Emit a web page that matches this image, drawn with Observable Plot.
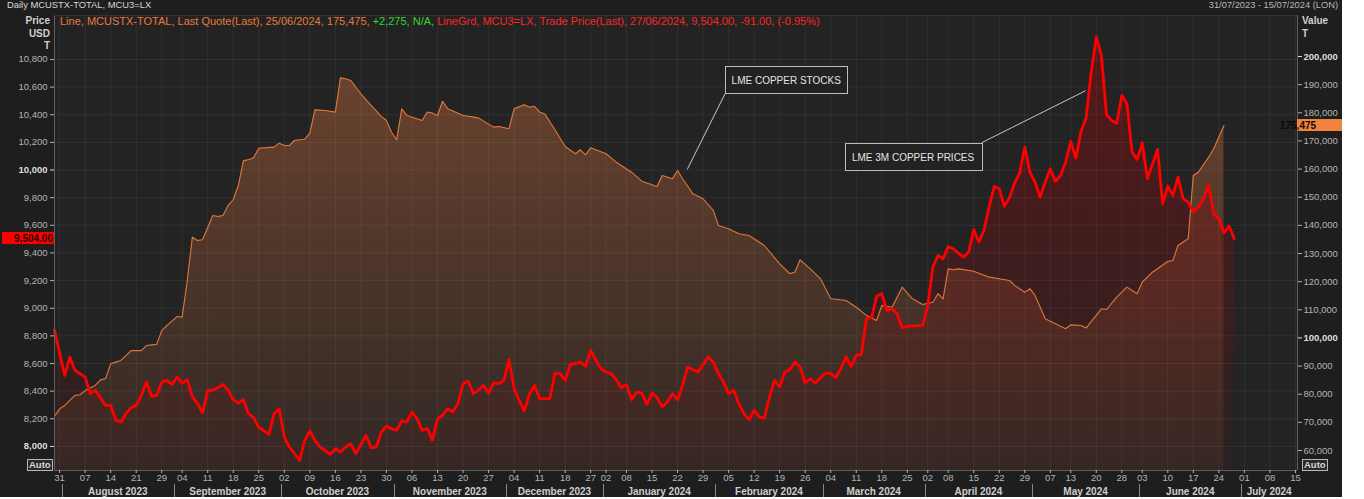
<!DOCTYPE html>
<html><head><meta charset="utf-8">
<script src="https://cdn.jsdelivr.net/npm/d3@7"></script>
<script src="https://cdn.jsdelivr.net/npm/@observablehq/plot@0.6"></script>
<style>
html,body{margin:0;padding:0;background:#ffffff;}
#wrap{position:relative;width:1342px;height:497px;background:#1e1e1e;overflow:hidden;font-family:"Liberation Sans",Arial,sans-serif;}
#wrap svg{position:absolute;left:0;top:0;}
.t{position:absolute;white-space:nowrap;font-size:10px;line-height:12px;}
.b{font-weight:bold;}
.auto{position:absolute;font-size:9.5px;font-weight:bold;color:#d8d8d8;border:1px solid #b8b8b8;line-height:10px;height:10px;padding:0 1px;background:#2a2a2a;}
</style></head><body>
<div id="wrap">
  <div class="t" style="left:7px;top:-1px;color:#d6d6d6;font-size:9.4px;">Daily MCUSTX-TOTAL, MCU3=LX</div>
  <div class="t" style="right:4px;top:-1px;color:#b8b8b8;font-size:9.3px;">31/07/2023 - 15/07/2024 (LON)</div>
  <div class="t b" style="left:0;width:50px;text-align:right;top:15px;color:#d0d0d0;">Price</div>
  <div class="t b" style="left:0;width:50px;text-align:right;top:28px;color:#d0d0d0;">USD</div>
  <div class="t b" style="left:0;width:50px;text-align:right;top:40px;color:#d0d0d0;">T</div>
  <div class="t b" style="left:1302px;top:15px;color:#d0d0d0;">Value</div>
  <div class="t b" style="left:1302px;top:28px;color:#d0d0d0;">T</div>
  <div class="auto" style="left:27px;top:459px;">Auto</div>
  <div class="auto" style="left:1302px;top:459px;">Auto</div>
</div>
<script>
// ---------- data ----------
const holidays = ["2023-08-28","2023-12-25","2023-12-26","2024-01-01","2024-03-29","2024-04-01","2024-05-06","2024-05-27"];
const calendarStart = "2023-07-28";
const calendarEnd = "2024-07-15";

// LME 3M copper price (USD/T)
const priceSeries = [
["2023-07-28",8840],["2023-08-01",8514],["2023-08-02",8647],["2023-08-03",8551],["2023-08-07",8502],["2023-08-08",8382],["2023-08-09",8406],
["2023-08-11",8297],["2023-08-14",8297],["2023-08-15",8189],["2023-08-16",8177],["2023-08-17",8237],["2023-08-18",8281],["2023-08-21",8297],
["2023-08-22",8370],["2023-08-23",8466],["2023-08-24",8363],["2023-08-25",8370],["2023-08-29",8466],["2023-08-30",8478],["2023-08-31",8449],
["2023-09-01",8502],["2023-09-04",8459],["2023-09-05",8483],["2023-09-06",8358],["2023-09-07",8310],["2023-09-08",8242],["2023-09-11",8406],
["2023-09-12",8406],["2023-09-14",8449],["2023-09-15",8406],["2023-09-18",8338],["2023-09-19",8314],["2023-09-20",8338],["2023-09-21",8237],
["2023-09-22",8208],["2023-09-25",8140],["2023-09-27",8088],["2023-09-28",8237],["2023-09-29",8273],["2023-10-02",8068],["2023-10-03",7996],
["2023-10-05",7900],["2023-10-06",8044],["2023-10-09",8112],["2023-10-10",8044],["2023-10-11",7996],["2023-10-13",7943],["2023-10-16",7984],
["2023-10-17",7960],["2023-10-18",7996],["2023-10-19",8020],["2023-10-20",7948],["2023-10-24",8080],["2023-10-25",7991],["2023-10-26",7996],
["2023-10-27",8104],["2023-10-30",8146],["2023-10-31",8129],["2023-11-01",8117],["2023-11-02",8184],["2023-11-03",8177],["2023-11-06",8249],
["2023-11-07",8201],["2023-11-08",8117],["2023-11-09",8129],["2023-11-10",8044],["2023-11-13",8201],["2023-11-14",8225],["2023-11-15",8273],
["2023-11-16",8249],["2023-11-17",8310],["2023-11-20",8454],["2023-11-21",8473],["2023-11-22",8382],["2023-11-23",8406],["2023-11-24",8442],
["2023-11-27",8386],["2023-11-28",8459],["2023-11-29",8454],["2023-11-30",8478],["2023-12-01",8628],["2023-12-04",8418],["2023-12-05",8334],
["2023-12-06",8256],["2023-12-07",8382],["2023-12-08",8442],["2023-12-11",8346],["2023-12-13",8346],["2023-12-14",8531],["2023-12-15",8527],
["2023-12-18",8478],["2023-12-19",8594],["2023-12-20",8599],["2023-12-21",8611],["2023-12-22",8580],["2023-12-27",8695],["2023-12-28",8623],
["2023-12-29",8563],["2024-01-02",8539],["2024-01-03",8527],["2024-01-04",8483],["2024-01-05",8425],["2024-01-08",8449],["2024-01-09",8338],
["2024-01-10",8394],["2024-01-11",8386],["2024-01-12",8305],["2024-01-15",8386],["2024-01-16",8353],["2024-01-17",8285],["2024-01-18",8321],
["2024-01-19",8382],["2024-01-22",8338],["2024-01-23",8442],["2024-01-24",8575],["2024-01-26",8539],["2024-01-29",8594],["2024-01-30",8647],
["2024-01-31",8611],["2024-02-01",8527],["2024-02-02",8466],["2024-02-05",8382],["2024-02-06",8406],["2024-02-07",8310],["2024-02-08",8237],
["2024-02-09",8194],["2024-02-12",8261],["2024-02-13",8213],["2024-02-14",8206],["2024-02-15",8358],["2024-02-16",8478],["2024-02-19",8430],
["2024-02-20",8539],["2024-02-21",8556],["2024-02-22",8611],["2024-02-23",8575],["2024-02-26",8459],["2024-02-27",8490],["2024-02-28",8459],
["2024-02-29",8498],["2024-03-01",8531],["2024-03-04",8527],["2024-03-05",8498],["2024-03-06",8563],["2024-03-07",8647],["2024-03-08",8580],
["2024-03-11",8659],["2024-03-12",8666],["2024-03-13",8924],["2024-03-14",8936],["2024-03-15",9086],["2024-03-18",9105],["2024-03-19",8984],
["2024-03-20",8997],["2024-03-21",8961],["2024-03-22",8857],["2024-03-25",8871],["2024-03-26",8871],["2024-03-28",8876],["2024-04-02",9021],
["2024-04-03",9298],["2024-04-04",9382],["2024-04-05",9358],["2024-04-08",9447],["2024-04-09",9430],["2024-04-10",9399],["2024-04-11",9370],
["2024-04-12",9406],["2024-04-15",9568],["2024-04-16",9479],["2024-04-17",9563],["2024-04-18",9732],["2024-04-19",9881],["2024-04-22",9865],
["2024-04-23",9737],["2024-04-24",9800],["2024-04-25",9905],["2024-04-26",9980],["2024-04-29",10166],["2024-04-30",9985],["2024-05-01",9913],
["2024-05-02",9804],["2024-05-03",9913],["2024-05-07",10009],["2024-05-08",9918],["2024-05-09",9961],["2024-05-10",10057],["2024-05-13",10207],
["2024-05-14",10086],["2024-05-15",10279],["2024-05-16",10376],["2024-05-17",10708],["2024-05-20",10961],["2024-05-21",10829],["2024-05-22",10400],
["2024-05-23",10359],["2024-05-24",10339],["2024-05-28",10540],["2024-05-29",10480],["2024-05-30",10130],["2024-05-31",10077],["2024-06-03",10197],
["2024-06-04",9937],["2024-06-06",10149],["2024-06-07",9756],["2024-06-10",9884],["2024-06-11",9816],["2024-06-12",9949],["2024-06-13",9792],
["2024-06-14",9768],["2024-06-17",9696],["2024-06-18",9732],["2024-06-19",9792],["2024-06-20",9889],["2024-06-21",9684],["2024-06-24",9648],
["2024-06-25",9546],["2024-06-26",9595],["2024-06-27",9504]
];

// LME copper stocks (tonnes)
const stockSeries = [
["2023-07-28",72100],["2023-07-31",74800],["2023-08-01",76000],["2023-08-03",79550],["2023-08-04",79800],["2023-08-07",81300],["2023-08-09",83100],
["2023-08-10",85100],["2023-08-11",85500],["2023-08-14",90800],["2023-08-15",91400],["2023-08-16",92000],["2023-08-18",95500],["2023-08-22",95500],
["2023-08-23",97300],["2023-08-25",97700],["2023-08-29",102600],["2023-08-30",104400],["2023-09-01",107600],["2023-09-04",107400],["2023-09-05",120400],
["2023-09-06",135800],["2023-09-07",134600],["2023-09-08",134900],["2023-09-12",143500],["2023-09-13",143150],["2023-09-14",143500],["2023-09-15",147100],
["2023-09-18",149100],["2023-09-19",154200],["2023-09-20",163000],["2023-09-21",163300],["2023-09-22",164000],["2023-09-25",167400],["2023-09-28",167800],
["2023-09-29",169200],["2023-10-02",168400],["2023-10-03",168400],["2023-10-04",170150],["2023-10-06",170600],["2023-10-09",172750],["2023-10-10",181050],
["2023-10-12",180800],["2023-10-16",180250],["2023-10-17",192400],["2023-10-18",192100],["2023-10-19",191500],["2023-10-23",186750],["2023-10-25",182600],
["2023-10-27",178700],["2023-10-30",177250],["2023-10-31",173100],["2023-11-01",170400],["2023-11-02",181400],["2023-11-03",179050],["2023-11-08",177250],
["2023-11-09",180250],["2023-11-10",179900],["2023-11-13",179050],["2023-11-14",184100],["2023-11-15",181400],["2023-11-20",179050],["2023-11-23",178200],
["2023-11-28",174900],["2023-11-29",175100],["2023-12-01",174300],["2023-12-04",181400],["2023-12-06",182850],["2023-12-07",182000],["2023-12-08",182300],
["2023-12-11",180250],["2023-12-12",179600],["2023-12-14",173950],["2023-12-18",168000],["2023-12-20",165450],["2023-12-21",166850],["2023-12-22",165050],
["2023-12-27",167550],["2024-01-02",165450],["2024-01-04",162450],["2024-01-09",158900],["2024-01-11",155700],["2024-01-16",153800],["2024-01-17",157700],
["2024-01-19",156550],["2024-01-22",159500],["2024-01-23",156550],["2024-01-25",151200],["2024-01-29",149450],["2024-01-31",145300],["2024-02-01",139950],
["2024-02-05",138800],["2024-02-07",137000],["2024-02-09",136400],["2024-02-14",132850],["2024-02-19",126350],["2024-02-21",122800],["2024-02-22",123400],
["2024-02-23",127750],["2024-02-27",124550],["2024-02-29",121000],["2024-03-04",113900],["2024-03-07",113300],["2024-03-11",110900],["2024-03-13",108000],
["2024-03-15",106200],["2024-03-18",111550],["2024-03-20",110900],["2024-03-22",118050],["2024-03-26",113900],["2024-03-28",111900],["2024-04-03",112700],
["2024-04-04",115700],["2024-04-05",113900],["2024-04-08",124550],["2024-04-09",124200],["2024-04-10",124550],["2024-04-15",123700],["2024-04-18",121600],
["2024-04-24",120400],["2024-04-25",118650],["2024-04-29",116250],["2024-04-30",117500],["2024-05-01",115100],["2024-05-03",106800],["2024-05-10",103250],
["2024-05-13",104650],["2024-05-15",104400],["2024-05-16",103500],["2024-05-21",110350],["2024-05-22",110100],["2024-05-24",114500],["2024-05-29",118050],
["2024-05-31",115700],["2024-06-03",119800],["2024-06-05",123350],["2024-06-10",127150],["2024-06-11",127500],["2024-06-12",132850],["2024-06-14",135250],
["2024-06-17",157700],["2024-06-18",158900],["2024-06-20",164200],["2024-06-21",167200],["2024-06-25",175475]
];

const priceTicks = [8000,8200,8400,8600,8800,9000,9200,9400,9600,9800,10000,10200,10400,10600,10800];
const priceBoldTicks = [8000,10000];
const stockTicks = [60000,70000,80000,90000,100000,110000,120000,130000,140000,150000,160000,170000,180000,190000,200000];
const stockBoldTicks = [100000,200000];

const annotations = [
  {label:"LME COPPER STOCKS", date:"2024-01-24", series:"stock", value:159700, corner:"bottom-left", dx:38, dy:-76, w:122, h:27},
  {label:"LME 3M COPPER PRICES", date:"2024-05-16", series:"price", value:10570, corner:"top-right", dx:-104, dy:52, w:137, h:27}
];

// ---------- trading-day calendar ----------
const cal = [];
for (let t = Date.parse(calendarStart+"T00:00:00Z"); t <= Date.parse(calendarEnd+"T00:00:00Z"); t += 864e5) {
  const d = new Date(t), wd = d.getUTCDay(), s = d.toISOString().slice(0,10);
  if (wd === 0 || wd === 6 || holidays.includes(s)) continue;
  cal.push(s);
}
const idx = new Map(cal.map((s,i)=>[s,i]));
const xDomain = [0, cal.length - 1 + 0.4];

const priceDomain = [7826, 11118];
const stockDomain = [52893, 214569];
const kk = (priceDomain[1]-priceDomain[0])/(stockDomain[1]-stockDomain[0]);
const toP = s => priceDomain[0] + (s - stockDomain[0]) * kk;
const fromP = p => stockDomain[0] + (p - priceDomain[0]) / kk;

const priceData = priceSeries.map(([d,v]) => ({i: idx.get(d), v})).filter(d => d.i !== undefined);
const stockData = stockSeries.map(([d,v]) => ({i: idx.get(d), v: toP(v), raw: v})).filter(d => d.i !== undefined);
if (priceData.length !== priceSeries.length || stockData.length !== stockSeries.length) console.error("date not in calendar");

const weekKey = s => { const d = new Date(s+"T00:00:00Z"); return d.getTime() - ((d.getUTCDay()+6)%7)*864e5; };
const weekTicks = cal.map((s,i)=>i).filter(i => i > 0 && weekKey(cal[i]) !== weekKey(cal[i-1]));

const months = [];
cal.forEach((s,i) => {
  const m = s.slice(0,7);
  if (!months.length || months[months.length-1].m !== m) months.push({m, start:i, end:i});
  else months[months.length-1].end = i;
});

const fmtInt = d3.format(",");
const fmt2 = d3.format(",.2f");
const monthName = d3.utcFormat("%B %Y");

const W = 1342, H = 497;
const M = {left: 54, right: W - 1297, top: 15, bottom: H - 470};

// ---------- custom render marks ----------
function defsMark(index, scales, values, dims) {
  const g = d3.create("svg:g");
  const defs = g.append("defs");
  const y1 = dims.marginTop, y2 = dims.height - dims.marginBottom;
  const gs = defs.append("linearGradient").attr("id","gStock").attr("gradientUnits","userSpaceOnUse")
    .attr("x1",0).attr("x2",0).attr("y1",y1).attr("y2",y2);
  [[0,"#72462f"],[0.3,"#5e3d2c"],[0.65,"#463228"],[1,"#322825"]].forEach(([o,c]) =>
    gs.append("stop").attr("offset",o).attr("stop-color",c));
  const gp = defs.append("linearGradient").attr("id","gPrice").attr("gradientUnits","userSpaceOnUse")
    .attr("x1",0).attr("x2",0).attr("y1",y1).attr("y2",y2);
  [[0,0.62],[0.45,0.36],[1,0.05]].forEach(([o,a]) =>
    gp.append("stop").attr("offset",o).attr("stop-color","#7d0f12").attr("stop-opacity",a));
  return g.node();
}

function monthAxis(index, scales, values, dims) {
  const g = d3.create("svg:g").attr("font-size", 10);
  const x = scales.x;
  const yb = dims.height - dims.marginBottom;
  months.forEach((mo, j) => {
    const a = Math.max(xDomain[0], mo.start - 0.5), b = Math.min(xDomain[1], mo.end + 0.5);
    if (j > 0) {
      const xs = Math.round(x(mo.start - 0.5)) + 0.5;
      g.append("line").attr("x1", xs).attr("x2", xs).attr("y1", yb + 14).attr("y2", yb + 27).attr("stroke", "#8a8a8a");
    }
    if (x(b) - x(a) > 40) {
      g.append("text").attr("x", (x(a) + x(b)) / 2).attr("y", yb + 21).attr("dy", "0.35em")
        .attr("text-anchor", "middle").attr("font-weight", "bold").attr("fill", "#cdcdcd")
        .text(monthName(new Date(mo.m + "-01T00:00:00Z")));
    }
  });
  return g.node();
}

function valueTags(index, scales, values, dims) {
  const g = d3.create("svg:g").attr("font-size", 10).attr("font-weight", "bold");
  const y = scales.y;
  const lastP = priceData[priceData.length - 1].v;
  const lastS = stockData[stockData.length - 1];
  const yp = y(lastP);
  g.append("rect").attr("x", 2).attr("y", yp - 6).attr("width", dims.marginLeft - 2).attr("height", 12).attr("fill", "#ff0000");
  g.append("text").attr("x", dims.marginLeft - 1).attr("y", yp).attr("dy", "0.35em").attr("text-anchor", "end").attr("fill", "#1a0000").text(fmt2(lastP));
  const ys = y(lastS.v);
  const xr = dims.width - dims.marginRight;
  g.append("rect").attr("x", xr).attr("y", ys - 6).attr("width", dims.marginRight).attr("height", 12).attr("fill", "#f2823f");
  g.append("text").attr("x", xr + 1).attr("y", ys).attr("dy", "0.35em").attr("fill", "#120800").text(fmtInt(lastS.raw));
  return g.node();
}

function annotationMark(index, scales, values, dims) {
  const g = d3.create("svg:g").attr("font-size", 10);
  annotations.forEach(a => {
    const px = scales.x(idx.get(a.date));
    const py = scales.y(a.series === "stock" ? toP(a.value) : a.value);
    const cx = px + a.dx, cy = py + a.dy;
    let bx, by;
    if (a.corner === "bottom-left") { bx = cx; by = cy - a.h; } else { bx = cx - a.w; by = cy; }
    g.append("line").attr("x1", px).attr("y1", py).attr("x2", cx).attr("y2", cy).attr("stroke", "#c8c8c8").attr("stroke-width", 1);
    g.append("rect").attr("x", Math.round(bx) + 0.5).attr("y", Math.round(by) + 0.5).attr("width", a.w).attr("height", a.h)
      .attr("fill", "#222222").attr("stroke", "#bdbdbd");
    g.append("text").attr("x", bx + a.w / 2).attr("y", by + a.h / 2 + 1).attr("dy", "0.35em").attr("text-anchor", "middle")
      .attr("fill", "#e4e4e4").text(a.label);
  });
  return g.node();
}

// ---------- chart ----------
const chart = Plot.plot({
  width: W, height: H,
  marginLeft: M.left, marginRight: M.right, marginTop: M.top, marginBottom: M.bottom,
  style: {background: "transparent", color: "#b4b4b4", fontFamily: "'Liberation Sans', Arial, sans-serif", fontSize: "9.5px", overflow: "visible"},
  x: {domain: xDomain, axis: null, label: null},
  y: {domain: priceDomain, axis: null, label: null},
  marks: [
    defsMark,
    Plot.frame({fill: "#232323", stroke: null}),
    Plot.areaY(stockData, {x: "i", y1: priceDomain[0], y2: "v", fill: "url(#gStock)"}),
    Plot.areaY(priceData, {x: "i", y1: priceDomain[0], y2: "v", fill: "url(#gPrice)"}),
    Plot.gridY(priceTicks, {stroke: "#ffffff", strokeOpacity: 0.06}),
    Plot.gridX(weekTicks, {stroke: "#ffffff", strokeOpacity: 0.06}),
    Plot.lineY(stockData, {x: "i", y: "v", stroke: "#dc763a", strokeWidth: 1.1}),
    Plot.lineY(priceData, {x: "i", y: "v", stroke: "#ff0000", strokeWidth: 2.8, strokeLinejoin: "round"}),
    Plot.ruleX(xDomain, {stroke: "#5e5e5e"}),
    Plot.ruleY([priceDomain[0]], {stroke: "#5e5e5e"}),
    Plot.ruleY([priceDomain[1]], {stroke: "#333333"}),
    Plot.axisY(priceTicks.filter(v => !priceBoldTicks.includes(v)), {anchor: "left", label: null, tickSize: 4, tickPadding: 3, tickFormat: fmtInt, color: "#b4b4b4"}),
    Plot.axisY(priceBoldTicks, {anchor: "left", label: null, tickSize: 4, tickPadding: 3, tickFormat: fmtInt, color: "#dcdcdc", fontWeight: "bold"}),
    Plot.axisY(stockTicks.filter(v => !stockBoldTicks.includes(v)).map(toP), {anchor: "right", label: null, tickSize: 4, tickPadding: 2, tickFormat: p => fmtInt(Math.round(fromP(p) / 1000) * 1000), color: "#b4b4b4"}),
    Plot.axisY(stockBoldTicks.map(toP), {anchor: "right", label: null, tickSize: 4, tickPadding: 2, tickFormat: p => fmtInt(Math.round(fromP(p) / 1000) * 1000), color: "#dcdcdc", fontWeight: "bold"}),
    Plot.axisX(weekTicks, {anchor: "bottom", label: null, tickSize: 3, tickPadding: 1, tickFormat: i => cal[i].slice(8, 10), color: "#b4b4b4"}),
    monthAxis,
    valueTags,
    annotationMark
  ]
});
document.getElementById("wrap").insertBefore(chart, document.getElementById("wrap").firstChild);

// legend line inside the plot
const leg = document.createElement("div");
leg.className = "t";
leg.style.left = "60px"; leg.style.top = "15px"; leg.style.fontSize = "11px";
leg.innerHTML = '<span style="color:#e8783c">Line, MCUSTX-TOTAL, Last Quote(Last), 25/06/2024, 175,475, </span>' +
  '<span style="color:#2fd82f">+2,275, N/A, </span>' +
  '<span style="color:#ff2424">LineGrd, MCU3=LX, Trade Price(Last), 27/06/2024, 9,504.00, -91.00, (-0.95%)</span>';
document.getElementById("wrap").appendChild(leg);
</script>
</body></html>
